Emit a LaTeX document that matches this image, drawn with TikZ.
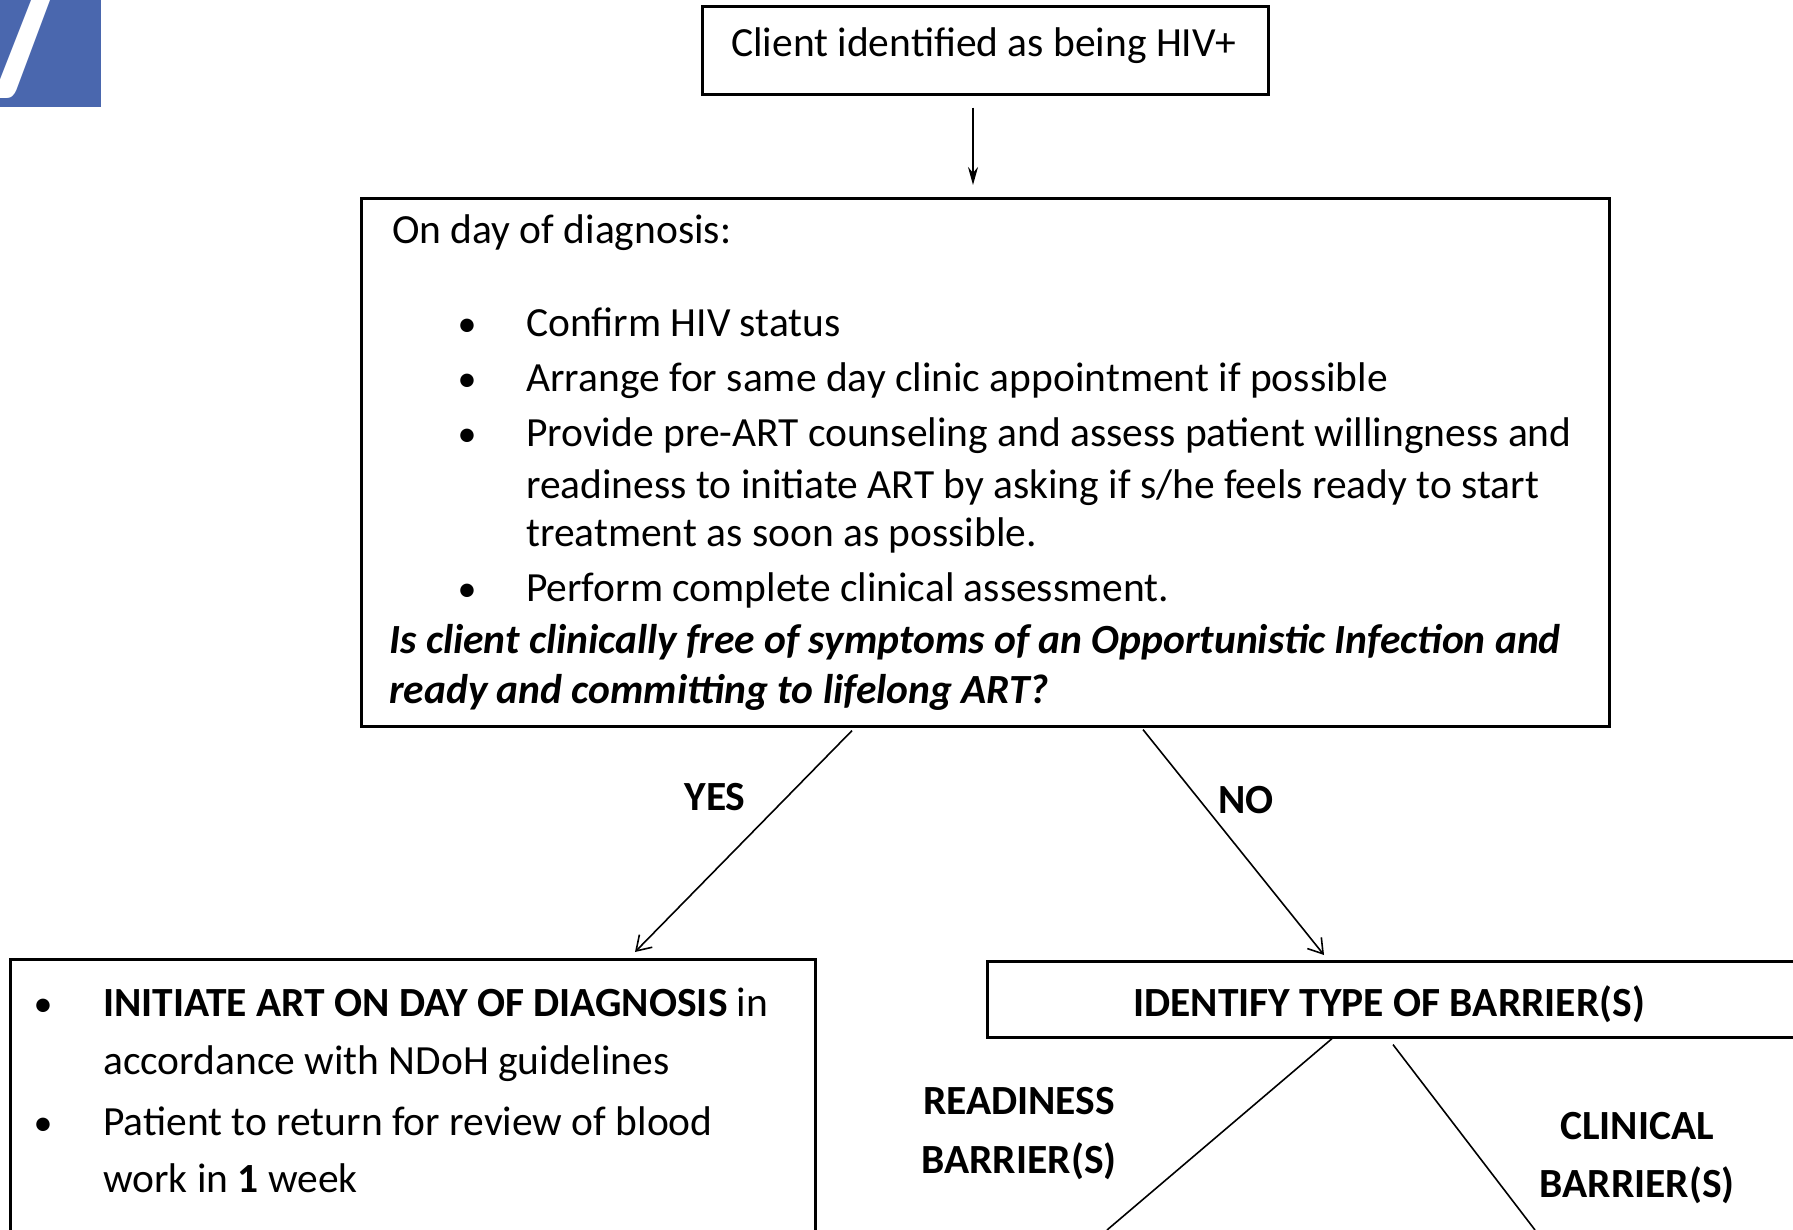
\documentclass[tikz,border=0pt]{standalone}
\usepackage{fontspec}
\setmainfont{Carlito}
\usetikzlibrary{arrows.meta,calc}
\begin{document}
\begin{tikzpicture}[x=1pt,y=-1pt,
  box/.style={draw,line width=2.6pt,inner sep=0pt,anchor=north west},
  txt/.style={inner sep=0pt,anchor=base west,font=\fontsize{41.5}{44}\selectfont},
  ctxt/.style={inner sep=0pt,font=\fontsize{41.5}{44}\selectfont},
  btxt/.style={inner sep=0pt,font=\fontsize{41.5}{44}\selectfont\bfseries},
  bul/.style={inner sep=0pt,anchor=base,font=\fontsize{38}{40}\selectfont},
  conn/.style={line width=1.6pt},
  ]
\useasboundingbox (0,0) rectangle (1793,1230);
% blue tab with "7"
\fill[fill={rgb,255:red,74;green,103;blue,174}] (0,0) rectangle (101,107);
\begin{scope}
\clip (0,0) rectangle (101,107);
\node[inner sep=0pt,anchor=base west,text=white,font=\fontsize{200}{200}\selectfont\bfseries] (seven) at (-21,99) {\scalebox{0.8}[1]{7}};
\end{scope}

% top box
\node[box,minimum width=566pt,minimum height=88pt] (top) at (701,5) {};
\node[ctxt] (toptxt) at (984,46) {Client identified as being HIV+};

% big box
\node[box,minimum width=1248pt,minimum height=528pt] (big) at (360,197) {};
\node[txt] (l0) at (392,244) {On day of diagnosis:};
\node[bul] (b1) at (467,337) {\textbullet};
\node[txt] (l1) at (526,337) {Confirm HIV status};
\node[bul] (b2) at (467,391) {\textbullet};
\node[txt] (l2) at (526,391) {Arrange for same day clinic appointment if possible};
\node[bul] (b3) at (467,446) {\textbullet};
\node[txt] (l3) at (526,446) {Provide pre-ART counseling and assess patient willingness and};
\node[txt] (l4) at (526,498) {readiness to initiate ART by asking if s/he feels ready to start};
\node[txt] (l5) at (526,546) {treatment as soon as possible.};
\node[bul] (b4) at (467,601) {\textbullet};
\node[txt] (l6) at (526,601) {Perform complete clinical assessment.};
\node[txt,font=\fontsize{41.5}{44}\selectfont\bfseries\itshape] (q1) at (389,653) {Is client clinically free of symptoms of an Opportunistic Infection and};
\node[txt,font=\fontsize{41.5}{44}\selectfont\bfseries\itshape] (q2) at (389,703) {ready and committing to lifelong ART?};

% arrow top -> big
\draw[conn,-{Stealth[length=18pt,width=10pt]}] ($(top.south west)+(272,12)$) coordinate (a0) -- ($(big.north west)+(613,-12)$);

% lower left box
\node[box,minimum width=805pt,minimum height=272pt] (yesbox) at (9,958) {};
\node[bul] (c1) at (43,1016) {\textbullet};
\node[txt] (m1) at (103,1016) {\textbf{INITIATE ART ON DAY OF DIAGNOSIS} in};
\node[txt] (m2) at (103,1074) {accordance with NDoH guidelines};
\node[bul] (c2) at (43,1135) {\textbullet};
\node[txt] (m3) at (103,1135) {Patient to return for review of blood};
\node[txt] (m4) at (103,1192) {work in \textbf{1} week};

% right box
\node[box,minimum width=830pt,minimum height=76pt] (nobox) at (986,960) {};
\node[btxt] (notxt) at (1389,1004) {IDENTIFY TYPE OF BARRIER(S)};

% yes / no arrows
\draw[conn,-{Straight Barb[length=14pt,width=18pt]}] ($(big.south west)+(492,3)$) -- ($(yesbox.north west)+(626,-6)$);
\draw[conn,-{Straight Barb[length=14pt,width=18pt]}] ($(big.south west)+(783,2)$) -- ($(nobox.north west)+(338,-5)$);
\node[btxt] (yes) at (715,797) {YES};
\node[btxt] (no) at (1246,800) {NO};

% barrier lines
\coordinate (rl) at (1107,1230);
\coordinate (cl) at (1535,1230);
\draw[conn] ($(nobox.south west)+(346,0)$) -- (rl);
\draw[conn] ($(nobox.south west)+(407,6)$) -- (cl);
\node[btxt] (r1) at (1019,1101) {READINESS};
\node[btxt] (r2) at (1019,1161) {BARRIER(S)};
\node[btxt] (k1) at (1637,1126) {CLINICAL};
\node[btxt] (k2) at (1637,1185) {BARRIER(S)};
\end{tikzpicture}
\end{document}
